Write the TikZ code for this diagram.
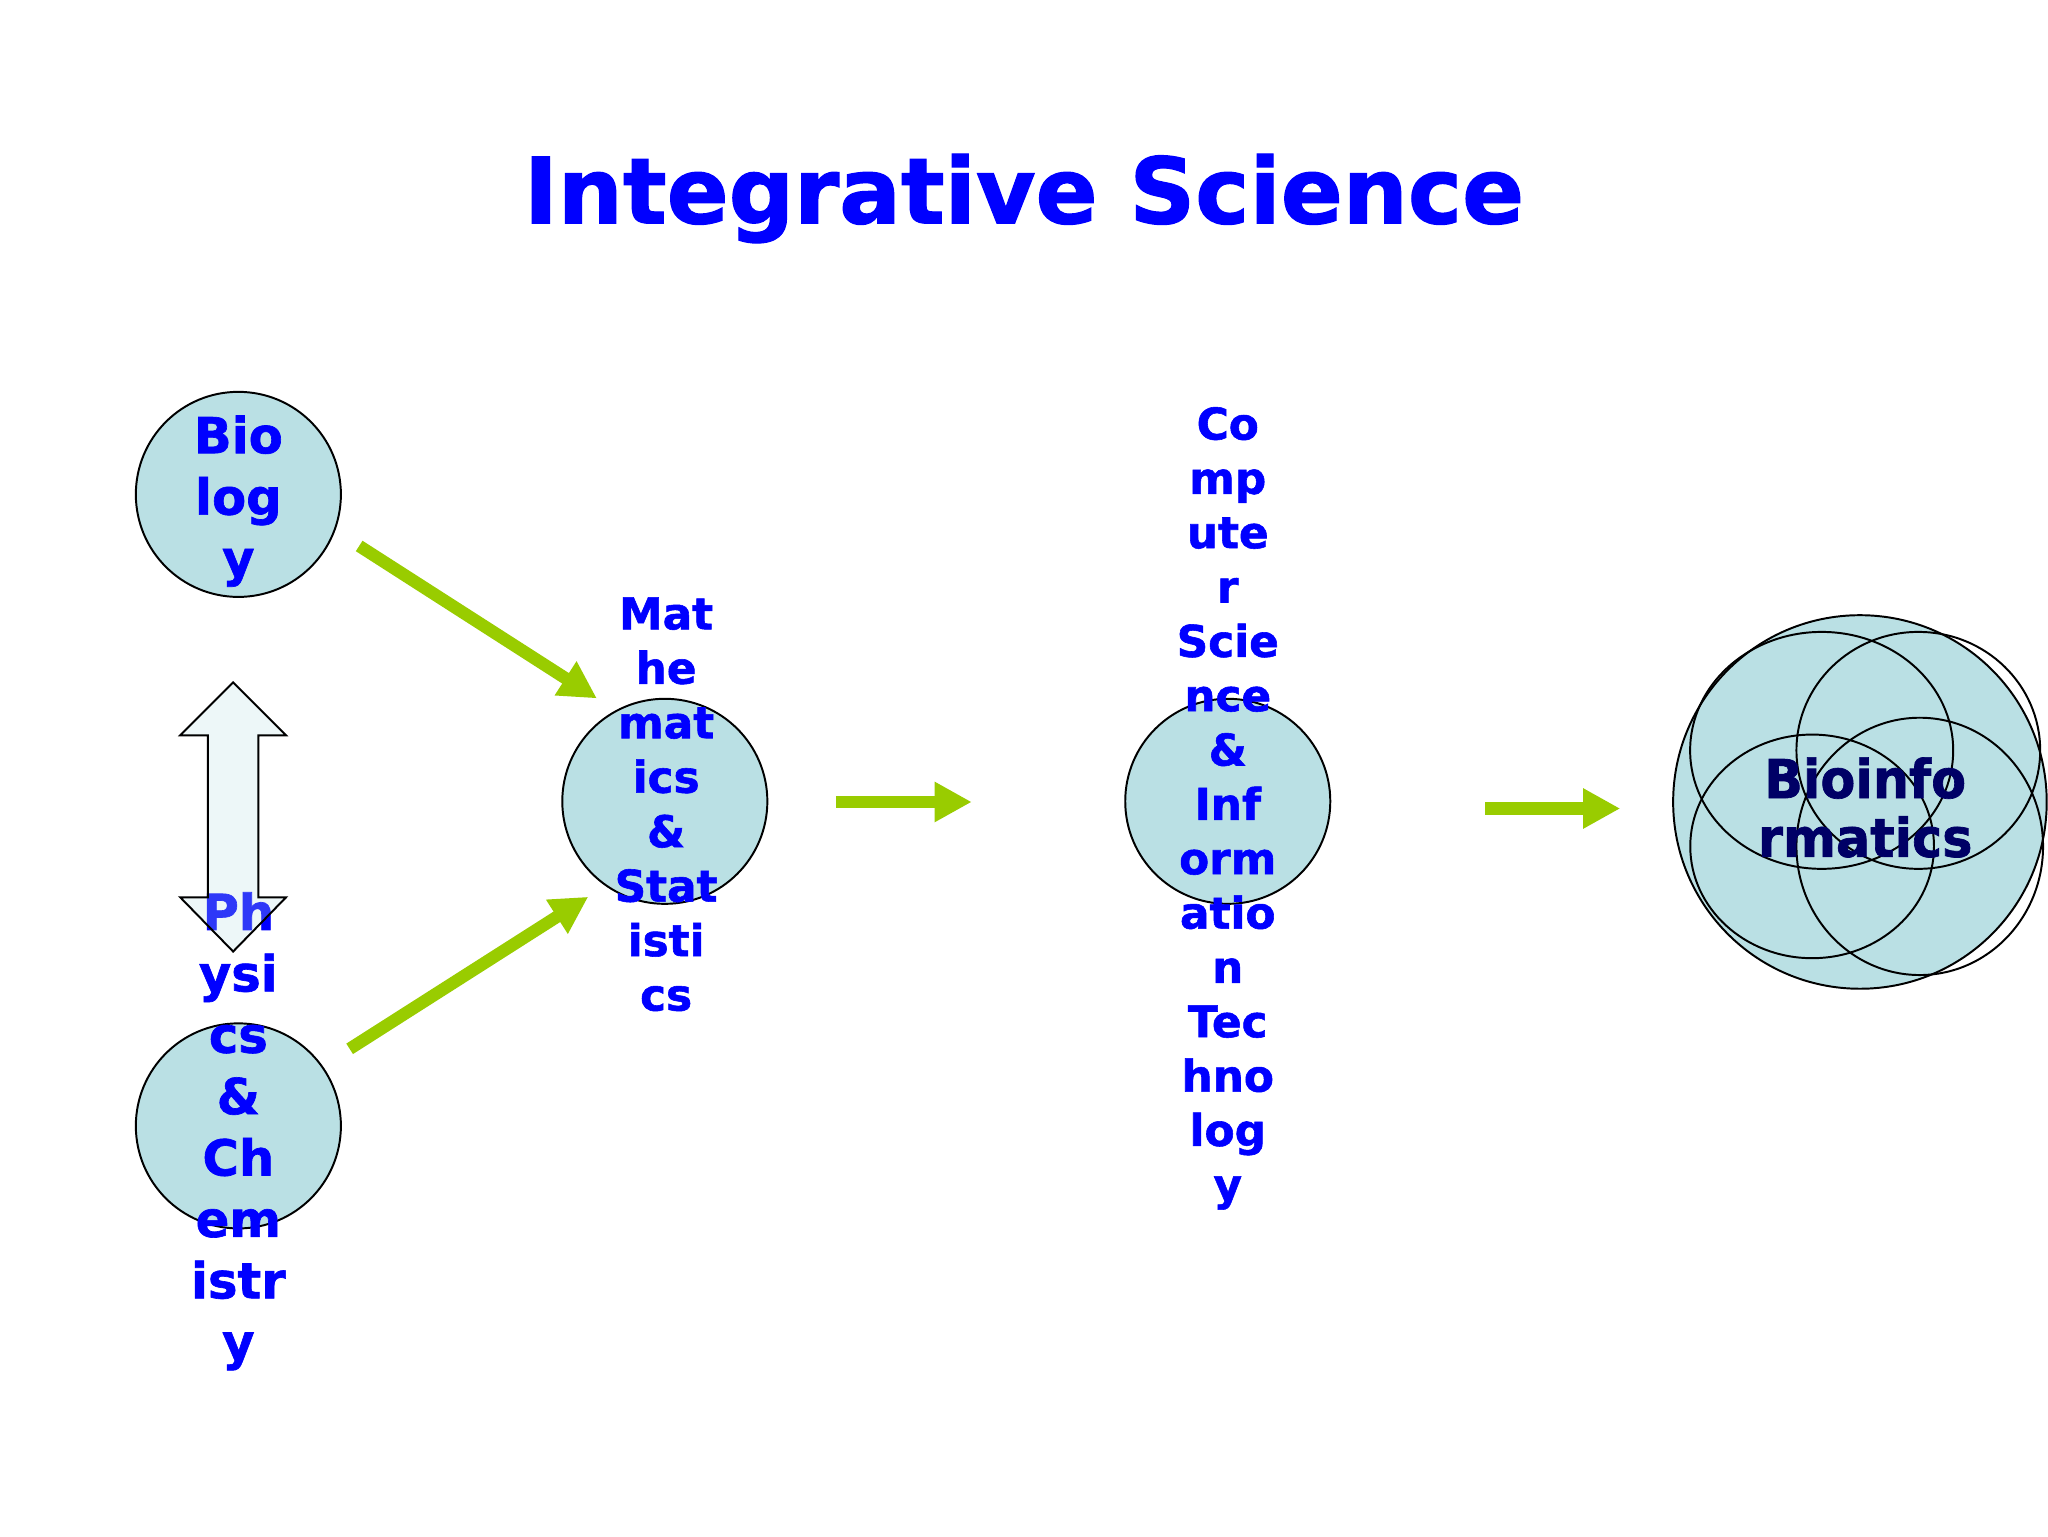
\documentclass[tikz,border=0pt]{standalone}
\usepackage{fontspec}
\setmainfont{DejaVu Sans}[BoldFeatures={FakeBold=1.3}]
\usetikzlibrary{arrows.meta}
\definecolor{bubblefill}{RGB}{186,224,228}
\definecolor{txtblue}{RGB}{0,0,255}
\definecolor{navyblue}{RGB}{0,0,102}
\definecolor{arrowgreen}{RGB}{153,204,0}
\begin{document}
\begin{tikzpicture}[x=1pt,y=-1pt,
  bubble/.style={circle, draw=black, line width=1.5pt, fill=bubblefill, inner sep=0pt, minimum size=157pt},
  lbl/.style={anchor=base, text=txtblue, font=\bfseries\fontsize{38}{47}\selectfont, inner sep=0pt},
  lblsm/.style={anchor=base, text=txtblue, font=\bfseries\fontsize{33.5}{41.6}\selectfont, inner sep=0pt},
  flow/.style={draw=arrowgreen, line width=9.5pt, -{Triangle[length=28.5pt,width=29pt]}},
  ring/.style={draw=black, line width=1.5pt}
]
\useasboundingbox (0,0) rectangle (1568,1176);
\fill[white] (0,0) rectangle (1568,1176);

% title
\node[anchor=base, text=txtblue, font=\bfseries\fontsize{70}{80}\selectfont, inner sep=0pt] (title) at (784,171) {Integrative Science};

% circles
\node[bubble] (bio) at (182.5,378.5) {};
\node[bubble] (phys) at (182.5,862) {};
\node[bubble] (math) at (509,613.5) {};
\node[bubble] (cs) at (940,613.5) {};

% bioinformatics
\node[bubble, minimum size=286pt] (bioinf) at (1424,614) {};
\draw[ring] (1394.7,574.5) ellipse [x radius=100.7, y radius=90.7];
\draw[ring] (1468.7,574.5) ellipse [x radius=93.3, y radius=90.7];
\draw[ring] (1387.4,648) ellipse [x radius=93.3, y radius=85.6];
\draw[ring] (1469.8,648) ellipse [x radius=94.4, y radius=98.5];

% green arrows
\coordinate (g1s) at (275,418);
\coordinate (g1e) at (457,534.7);
\coordinate (g2s) at (267.7,803);
\coordinate (g2e) at (450.4,686.6);
\coordinate (g3s) at (640,614);
\coordinate (g3e) at (744,614);
\coordinate (g4s) at (1137,619);
\coordinate (g4e) at (1240.5,619);
\draw[flow] (g1s) -- (g1e);
\draw[flow] (g2s) -- (g2e);
\draw[flow] (g3s) -- (g3e);
\draw[flow] (g4s) -- (g4e);

% texts
\foreach \t [count=\i from 0] in {Bio,log,y}
  \node[lbl] (bio-t\i) at (182.5,{347+47*\i}) {\t};
\foreach \t [count=\i from 0] in {Ph,ysi,cs,\&,Ch,em,istr,y}
  \node[lbl] (phys-t\i) at (182.5,{712+47*\i}) {\t};
\foreach \t [count=\i from 0] in {Mat,he,mat,ics,{\&\hspace{10pt}},Stat,isti,cs}
  \node[lblsm] (math-t\i) at (510,{481.8+41.7*\i}) {\t};
\foreach \t [count=\i from 0] in {Co,mp,ute,r,Scie,nce,{\&\hspace{10pt}},Inf,orm,atio,n,Tec,hno,log,y}
  \node[lblsm] (cs-t\i) at (940,{336.5+41.6*\i}) {\t};
\node[anchor=base, text=navyblue, font=\bfseries\fontsize{41}{47}\selectfont, inner sep=0pt] (bi-t0) at (1428,611) {\scalebox{0.95}[1]{Bioinfo}};
\node[anchor=base, text=navyblue, font=\bfseries\fontsize{41}{47}\selectfont, inner sep=0pt] (bi-t1) at (1428,656) {\scalebox{0.95}[1]{rmatics}};

% hollow up-down arrow
\draw[line width=1.5pt, fill=bubblefill, fill opacity=0.25]
  (178.5,522.5) -- (219,563) -- (197.8,563) -- (197.8,687) -- (219,687)
  -- (178.5,728.5) -- (138,687) -- (159.2,687) -- (159.2,563) -- (138,563) -- cycle;
\end{tikzpicture}
\end{document}
